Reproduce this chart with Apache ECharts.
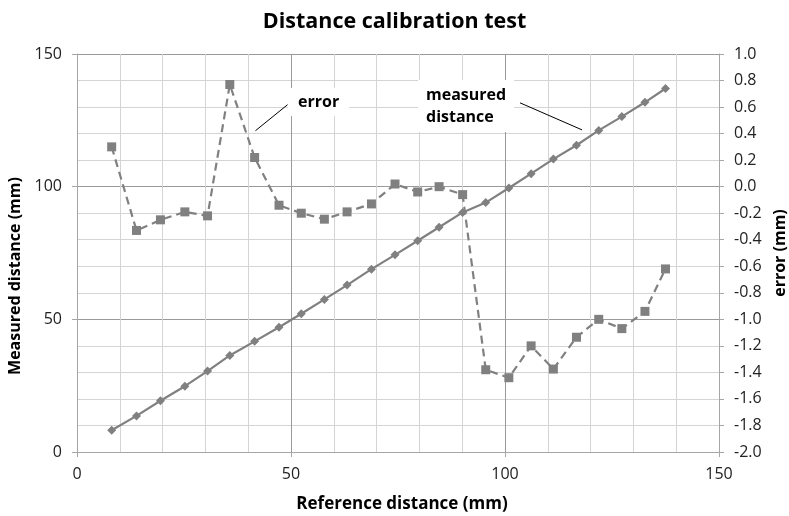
<!DOCTYPE html>
<html>
<head>
<meta charset="utf-8">
<script src="https://cdn.jsdelivr.net/npm/echarts@6/dist/echarts.min.js"></script>
<style>
  html, body { margin: 0; padding: 0; background: #fff; }
  #chart { width: 789px; height: 516px; }
</style>
</head>
<body>
<div id="chart"></div>
<script>
// reference distance (mm) at each measuring step
const referenceDistance = [8.1, 13.9, 19.5, 25.2, 30.5, 35.7, 41.5, 47.2, 52.4, 57.8, 63.1, 68.8, 74.3,
  79.6, 84.6, 90.1, 95.5, 100.9, 106.1, 111.3, 116.7, 121.9, 127.3, 132.7, 137.5]
// measured distance (mm), left axis
const measuredDistance = [8.2, 13.6, 19.3, 24.8, 30.5, 36.4, 41.7, 47.0, 52.1, 57.5, 62.9, 68.9, 74.3,
  79.6, 84.7, 90.3, 94.0, 99.5, 104.9, 110.4, 115.6, 121.2, 126.4, 131.8, 137.0]
// error (mm), right axis
const errorValues = [0.30, -0.33, -0.25, -0.19, -0.22, 0.77, 0.22, -0.14, -0.20, -0.245, -0.19, -0.13, 0.02,
  -0.04, 0.0, -0.06, -1.38, -1.44, -1.20, -1.375, -1.135, -1.0, -1.07, -0.94, -0.62]

const font = 'Open Sans'
const gray = '#808080'

const chart = echarts.init(document.getElementById('chart'))

chart.setOption({
  animation: false,
  textStyle: { fontFamily: font },
  title: {
    text: 'Distance calibration test',
    left: 'center',
    top: 6,
    textStyle: { fontFamily: font, fontWeight: 'bold', fontSize: 21.5, color: '#000' },
  },
  grid: { left: 77, right: 70, top: 54, bottom: 64, outerBoundsMode: 'none' },
  xAxis: {
    type: 'value',
    min: 0,
    max: 150,
    interval: 50,
    name: 'Reference distance (mm)',
    nameLocation: 'middle',
    nameGap: 44,
    nameTextStyle: { fontFamily: font, fontWeight: 'bold', fontSize: 17, color: '#000', padding: [0, 0, 0, 8] },
    axisLine: { show: true, lineStyle: { color: '#a6a6a6', width: 1 } },
    axisTick: { show: true, length: 5, lineStyle: { color: '#a6a6a6' } },
    axisLabel: { fontFamily: font, fontSize: 16, color: '#222', margin: 14 },
    splitLine: { show: true, lineStyle: { color: '#9a9a9a', width: 1 } },
    minorTick: { show: false, splitNumber: 5 },
    minorSplitLine: { show: true, lineStyle: { color: '#d4d4d4', width: 1 } },
  },
  yAxis: [
    {
      type: 'value',
      min: 0,
      max: 150,
      interval: 50,
      name: 'Measured distance (mm)',
      nameLocation: 'middle',
      nameGap: 51,
      nameTextStyle: { fontFamily: font, fontWeight: 'bold', fontSize: 16, color: '#000', padding: [0, 46, 0, 0] },
      axisLine: { show: true, lineStyle: { color: '#a6a6a6', width: 1 } },
      axisTick: { show: true, length: 5, lineStyle: { color: '#a6a6a6' } },
      axisLabel: { fontFamily: font, fontSize: 16, color: '#222', margin: 15 },
      splitLine: { show: true, lineStyle: { color: '#9a9a9a', width: 1 } },
      minorTick: { show: false, splitNumber: 5 },
      minorSplitLine: { show: true, lineStyle: { color: '#d4d4d4', width: 1 } },
    },
    {
      type: 'value',
      min: -2,
      max: 1,
      interval: 0.2,
      position: 'right',
      name: 'error (mm)',
      nameLocation: 'middle',
      nameGap: 46,
      nameRotate: 90,
      nameTextStyle: { fontFamily: font, fontWeight: 'bold', fontSize: 16, color: '#000' },
      axisLine: { show: true, lineStyle: { color: '#a6a6a6', width: 1 } },
      axisTick: { show: true, length: 5, lineStyle: { color: '#a6a6a6' } },
      axisLabel: {
        fontFamily: font, fontSize: 16, color: '#222', margin: 15,
        formatter: (v) => v.toFixed(1),
      },
      splitLine: { show: false },
    },
  ],
  series: [
    {
      name: 'measured distance',
      type: 'line',
      yAxisIndex: 0,
      data: referenceDistance.map((x, i) => [x, measuredDistance[i]]),
      symbol: 'diamond',
      symbolSize: 9,
      lineStyle: { color: gray, width: 2.2 },
      itemStyle: { color: gray },
      markLine: {
        silent: true,
        symbol: 'none',
        label: { show: false },
        lineStyle: { color: '#000', width: 1, type: 'solid' },
        data: [
          [{ coord: [41.7, 121.1] }, { coord: [49.2, 130.9] }],
          [{ coord: [103.5, 131.6] }, { coord: [118.0, 121.4] }],
        ],
      },
    },
    {
      name: 'error',
      type: 'line',
      yAxisIndex: 1,
      data: referenceDistance.map((x, i) => [x, errorValues[i]]),
      symbol: 'rect',
      symbolSize: 9,
      lineStyle: { color: gray, width: 2.2, type: [8, 5] },
      itemStyle: { color: gray },
    },
  ],
  graphic: [
    {
      type: 'text',
      left: 288,
      top: 88,
      style: {
        text: 'error',
        font: 'bold 16px "Open Sans"',
        fill: '#000',
        backgroundColor: '#fff',
        padding: [6, 10, 6, 10],
      },
      z: 100,
    },
    {
      type: 'text',
      left: 418,
      top: 80,
      style: {
        text: 'measured\ndistance',
        font: 'bold 16px "Open Sans"',
        lineHeight: 22,
        fill: '#000',
        backgroundColor: '#fff',
        padding: [4, 8, 4, 8],
      },
      z: 100,
    },
  ],
})
</script>
</body>
</html>
